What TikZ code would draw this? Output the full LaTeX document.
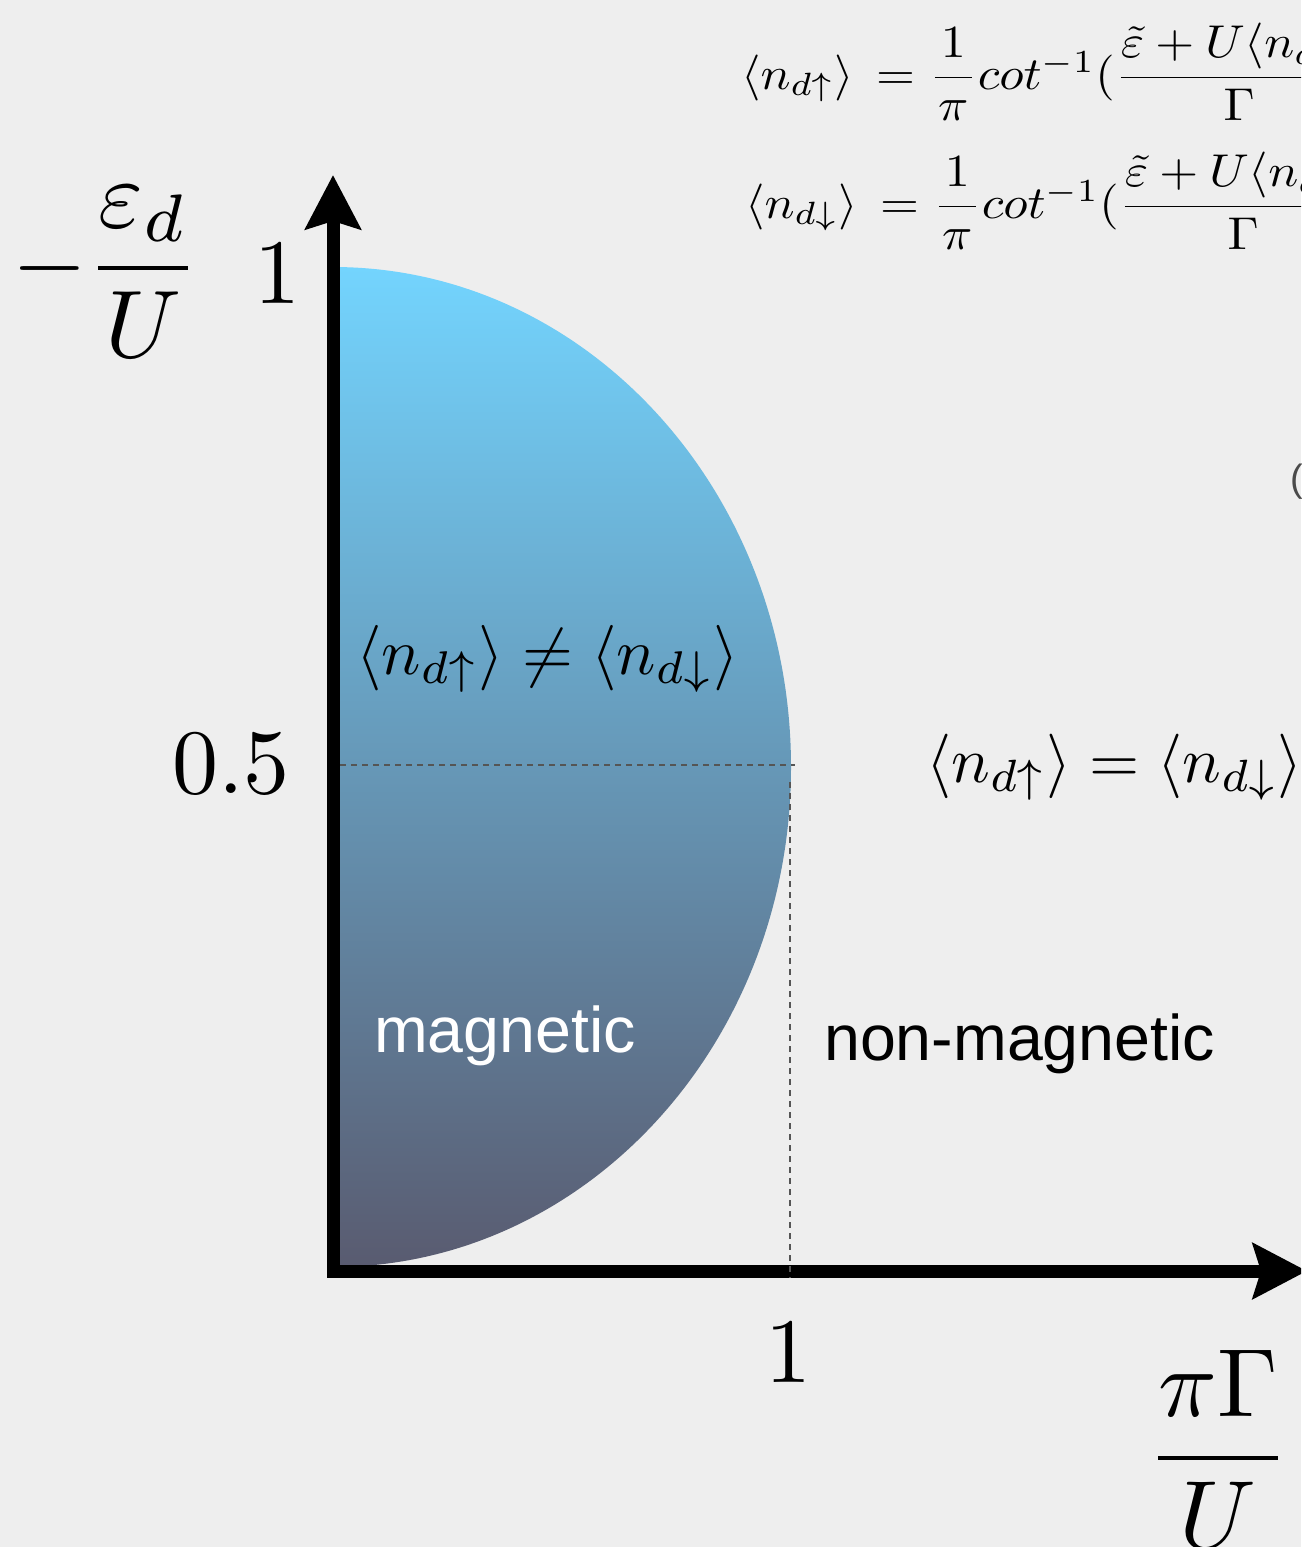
\documentclass[tikz,border=0pt]{standalone}
\usepackage{fix-cm}
\usepackage{amsmath}
\usepackage{fontspec}
\newfontfamily\helv{Liberation Sans}
\usetikzlibrary{arrows.meta}
\definecolor{bgc}{HTML}{EEEEEE}
\definecolor{topc}{HTML}{73D4FE}
\definecolor{midc}{HTML}{6797B6}
\definecolor{botc}{HTML}{595B70}
\definecolor{dashc}{HTML}{555555}
\definecolor{parc}{HTML}{4A4A4A}
\tikzset{
  axisline/.style={line width=13pt, line join=miter,
    {Stealth[length=54pt,width=55pt,inset=8pt]}-{Stealth[length=54pt,width=55pt,inset=8pt]}},
  dashline/.style={dashc, line width=2.3pt, dash pattern=on 6pt off 5pt},
  mathlabel/.style={inner sep=0pt, font=\fontsize{10}{12}\selectfont},
  sanslabel/.style={inner sep=0pt, font=\fontsize{64.5}{76}\selectfont\helv, anchor=base west}
}
\newcommand{\eqline}[2]{\langle n_{d#1}\rangle \mkern3mu= \dfrac{1}{\mkern1.2mu\pi\mkern1.2mu}cot^{-1}(\dfrac{\tilde{\varepsilon}+U\langle n_{d#2}\rangle}{\Gamma})}
\begin{document}
\begin{tikzpicture}[x=1pt,y=-1pt]
\useasboundingbox (0,0) rectangle (1301,1547);
\clip (0,0) rectangle (1301,1547);
\fill[bgc] (0,0) rectangle (1301,1547);
% shaded region
\shade[top color=topc, middle color=midc, bottom color=botc]
  (333,267) arc[start angle=-90, end angle=90, x radius=458, y radius=500] -- cycle;
% axes
\coordinate (ytip) at (333,175);
\coordinate (origin) at (333,1271);
\coordinate (xtip) at (1307,1271);
\draw[axisline] (ytip) -- (origin) -- (xtip);
% dashed guides
\coordinate (hd0) at (340,765);
\coordinate (hd1) at (795,765);
\coordinate (vd0) at (790,782);
\coordinate (vd1) at (790,1278);
\draw[dashline] (hd0) -- (hd1);
\draw[dashline] (vd0) -- (vd1);
% axis labels
\node[mathlabel, anchor=base west] (ylab) at (12,292) {\scalebox{9.6}{$-\dfrac{\varepsilon_d}{U}$}};
\node[mathlabel, anchor=base] (y1) at (277,303) {\scalebox{9.2}{$1$}};
\node[mathlabel, anchor=base] (y05) at (231,793) {\scalebox{9.2}{$0.5$}};
\node[mathlabel, anchor=base] (x1) at (788,1382) {\scalebox{9.2}{$1$}};
\node[mathlabel, anchor=base] (xlab) at (1218,1482) {\scalebox{9.7}{$\dfrac{\pi\Gamma}{U}$}};
% equations
\node[mathlabel, anchor=base west] (eq1) at (741,89) {\scalebox{5.0}[4.6]{$\eqline{\uparrow}{\downarrow}$}};
\node[mathlabel, anchor=base west] (eq2) at (745,218) {\scalebox{5.0}[4.6]{$\eqline{\downarrow}{\uparrow}$}};
% region labels
\node[mathlabel, anchor=base west] (neq) at (356,674) {\scalebox{6.55}{$\langle n_{d\uparrow}\rangle \neq \langle n_{d\downarrow}\rangle$}};
\node[mathlabel, anchor=base west] (eqr) at (926,782) {\scalebox{6.45}{$\langle n_{d\uparrow}\rangle = \langle n_{d\downarrow}\rangle$}};
\node[sanslabel, text=white] (mag) at (374,1052) {magnetic};
\node[sanslabel, text=black] (nonmag) at (824,1060) {non-magnetic};
\node[inner sep=0pt, anchor=base west, text=parc, font=\fontsize{38}{44}\selectfont\helv] (paren) at (1290,491) {(};
\end{tikzpicture}
\end{document}
